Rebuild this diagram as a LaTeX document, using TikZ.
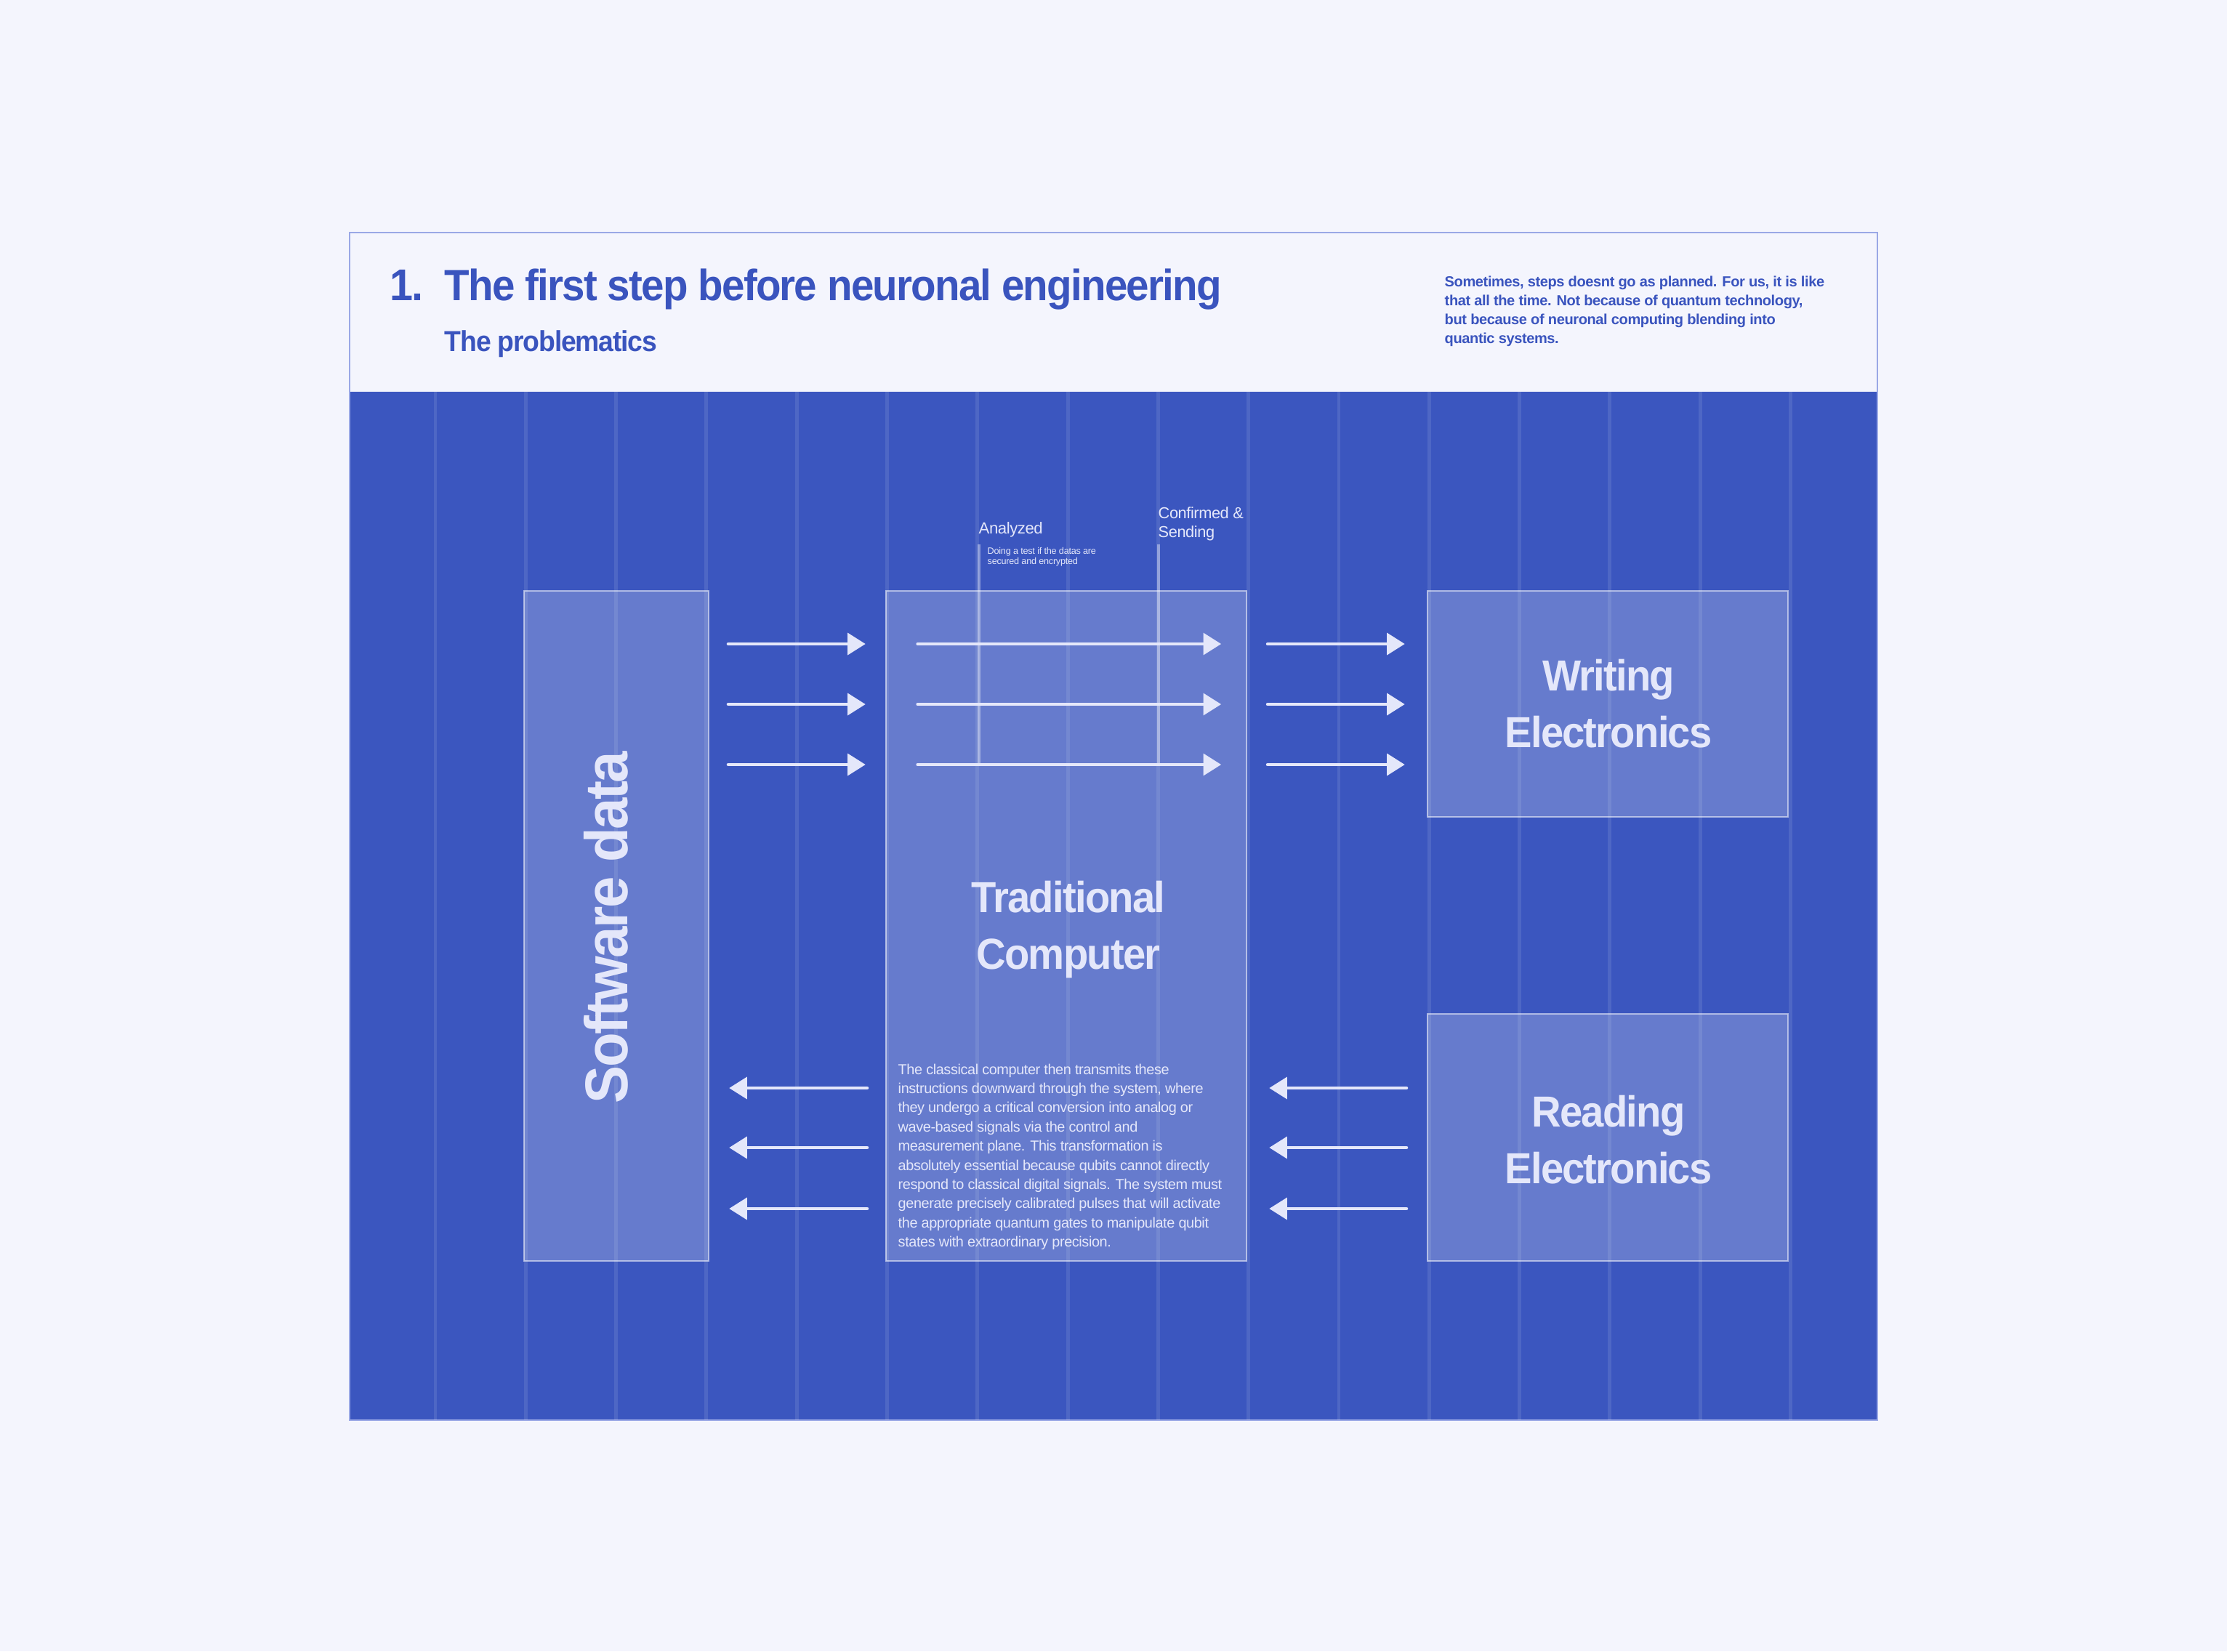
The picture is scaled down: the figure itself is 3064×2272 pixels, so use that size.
\documentclass[tikz,border=0pt]{standalone}
\usepackage{fontspec}
\setmainfont{Liberation Sans}[LetterSpace=-2]
\newfontfamily\headfont{Liberation Sans}[LetterSpace=-3, FakeStretch=0.94]
\usepackage{tikz}
\usetikzlibrary{arrows.meta}

\definecolor{pagebg}{HTML}{F4F5FD}
\definecolor{planeblue}{HTML}{3B56BF}
\definecolor{inkblue}{HTML}{3A54BE}
\definecolor{framelilac}{HTML}{9AA8E6}
\definecolor{paper}{HTML}{E4E7FA}

\begin{document}
\begin{tikzpicture}[
		x=0.01cm, y=-0.01cm,
		every node/.style={inner sep=0pt, text=paper},
		block/.style={draw=white, draw opacity=0.55, line width=0.6pt, fill=white, fill opacity=0.22},
		boxlabel/.style={align=center, font=\headfont\bfseries\fontsize{17}{22}\selectfont},
		flow/.style={draw=paper, line width=1.4pt, line cap=round, -{Triangle[length=7pt,width=8.4pt]}},
		gridline/.style={draw=white, draw opacity=0.1, line width=1.4pt},
		tick/.style={draw=white, draw opacity=0.4, line width=1.4pt}
		]
		% Page and frame
		\fill[pagebg] (0,0) rectangle (3064,2272);
		\useasboundingbox (0,0) rectangle (3064,2272);
		\fill[planeblue] (481,539) rectangle (2583,1954);
		\draw[framelilac, line width=0.8pt] (481,320) rectangle (2583,1954);
		
		% Column grid
		\foreach \k in {0,...,15}
			\draw[gridline] ({599+124.3*\k},539) -- ({599+124.3*\k},1954);
		
		% Heading
		\node[anchor=base west, text=inkblue, font=\headfont\bfseries\fontsize{17.4}{20}\selectfont] (num) at (536,413) {1.};
		\node[anchor=base west, text=inkblue, font=\headfont\bfseries\fontsize{17.1}{20}\selectfont] (title) at (611,413) {The first step before neuronal engineering};
		\node[anchor=base west, text=inkblue, font=\headfont\bfseries\fontsize{11.3}{13}\selectfont] (sub) at (611,483) {The problematics};
		\node[anchor=north west, align=left, text=inkblue, font=\bfseries\fontsize{5.7}{7.4}\selectfont] (note) at (1987,379)
			{Sometimes, steps doesnt go as planned. For us, it is like\\that all the time. Not because of quantum technology,\\but because of neuronal computing blending into\\quantic systems.};
		
		% Stage labels
		\node[anchor=base west, font=\fontsize{6.3}{7.5}\selectfont] (an) at (1346,734) {Analyzed};
		\node[anchor=north west, align=left, font=\fontsize{3.6}{4}\selectfont] (annote) at (1358,753) {Doing a test if the datas are\\secured and encrypted};
		\node[anchor=north west, align=left, font=\fontsize{6.2}{7.4}\selectfont] (cs) at (1593,697) {Confirmed \&\\Sending};
		\draw[tick] (1347,749) -- (1347,1052);
		\draw[tick] (1594,749) -- (1594,1052);
		
		% Boxes
		\node[block, minimum width=2.54cm, minimum height=9.22cm] (sw) at (848,1274) {};
		\node[block, minimum width=4.96cm, minimum height=9.22cm] (tc) at (1467,1274) {};
		\node[block, minimum width=4.96cm, minimum height=3.11cm] (we) at (2212,968.5) {};
		\node[block, minimum width=4.96cm, minimum height=3.40cm] (re) at (2212,1565) {};
		
		\node[rotate=90, anchor=base, font=\headfont\bfseries\fontsize{23.6}{28}\selectfont] (swtext) at (863,1276) {Software data};
		\node[boxlabel] (tctext) at (1470,1279) {Traditional\\Computer};
		\node[boxlabel] (wetext) at (2213,968) {Writing\\Electronics};
		\node[boxlabel] (retext) at (2213,1568) {Reading\\Electronics};
		\node[anchor=north west, align=left, font=\fontsize{5.65}{7.5}\selectfont] (tcnote) at (1235,1463)
			{The classical computer then transmits these\\instructions downward through the system, where\\they undergo a critical conversion into analog or\\wave-based signals via the control and\\measurement plane. This transformation is\\absolutely essential because qubits cannot directly\\respond to classical digital signals. The system must\\generate precisely calibrated pulses that will activate\\the appropriate quantum gates to manipulate qubit\\states with extraordinary precision.};
		
		% Writing path
		\foreach \yy in {886,969,1052} {
			\draw[flow, shorten <=0.26cm, shorten >=0.27cm] (sw.east |- 0,\yy) -- (tc.west |- 0,\yy);
			\draw[flow, shorten <=0.45cm, shorten >=0.36cm] (tc.west |- 0,\yy) -- (tc.east |- 0,\yy);
			\draw[flow, shorten <=0.28cm, shorten >=0.30cm] (tc.east |- 0,\yy) -- (we.west |- 0,\yy);
		}
		
		% Reading path
		\foreach \yy in {1497,1579,1663} {
			\draw[flow, shorten <=0.25cm, shorten >=0.27cm] (tc.west |- 0,\yy) -- (sw.east |- 0,\yy);
			\draw[flow, shorten <=0.28cm, shorten >=0.30cm] (re.west |- 0,\yy) -- (tc.east |- 0,\yy);
		}
\end{tikzpicture}
\end{document}
